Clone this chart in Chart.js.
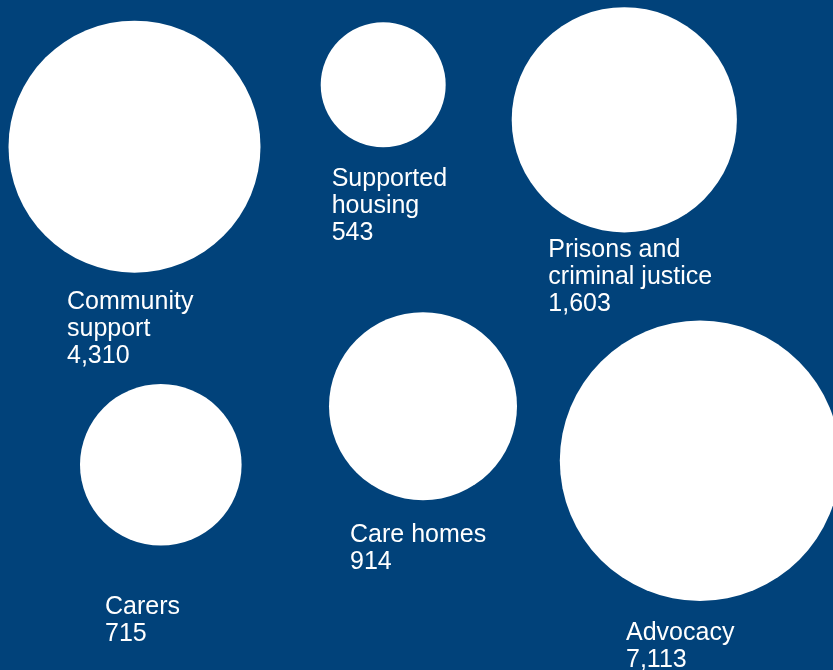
<!DOCTYPE html>
<html>
<head>
<meta charset="utf-8">
<script src="https://cdn.jsdelivr.net/npm/chart.js@4.4.1/dist/chart.umd.min.js"></script>
<style>
  html, body { margin: 0; padding: 0; background: #01427a; }
  #wrap { width: 833px; height: 670px; }
</style>
</head>
<body>
<div id="wrap"><canvas id="myChart" width="833" height="670"></canvas></div>
<script>
// data
var categories = ["Community support", "Supported housing", "Prisons and criminal justice", "Carers", "Care homes", "Advocacy"];
var labelLines = [["Community", "support"], ["Supported", "housing"], ["Prisons and", "criminal justice"], ["Carers"], ["Care homes"], ["Advocacy"]];
var counts = [4310, 543, 1603, 715, 914, 7113];

// bubble layout (canvas units), kept apart from the data
var layout = [
  { x: 134.5, y: 146.7, r: 126, dx: -67.5, dy: 162.3 },
  { x: 383.2, y: 84.8, r: 62.5, dx: -51.5, dy: 101.2 },
  { x: 624.3, y: 119.8, r: 112.6, dx: -76, dy: 137.5 },
  { x: 160.8, y: 464.8, r: 80.8, dx: -55.8, dy: 149.2 },
  { x: 423, y: 406.2, r: 94, dx: -73, dy: 136.1 },
  { x: 700, y: 460.8, r: 140.2, dx: -74, dy: 179.2 }
];

var points = counts.map(function(v, i) {
  return { x: layout[i].x, y: layout[i].y, r: layout[i].r, v: v };
});

var bubbleLabels = {
  id: "bubbleLabels",
  afterDatasetsDraw: function(chart) {
    var ctx = chart.ctx;
    var meta = chart.getDatasetMeta(0);
    ctx.save();
    ctx.fillStyle = "#ffffff";
    ctx.font = "25px 'Liberation Sans', Arial, sans-serif";
    ctx.textAlign = "left";
    ctx.textBaseline = "alphabetic";
    meta.data.forEach(function(el, i) {
      var lines = labelLines[i].concat([counts[i].toLocaleString("en-GB")]);
      var x = el.x + layout[i].dx;
      var y = el.y + layout[i].dy;
      lines.forEach(function(t, j) {
        ctx.fillText(t, x, y + j * 27);
      });
    });
    ctx.restore();
  }
};

new Chart("myChart", {
  type: "bubble",
  data: {
    labels: categories,
    datasets: [{
      data: points,
      backgroundColor: "#ffffff",
      borderWidth: 0,
      hoverRadius: 0
    }]
  },
  options: {
    responsive: false,
    animation: false,
    devicePixelRatio: 1,
    layout: { padding: 0, autoPadding: false },
    clip: false,
    plugins: {
      legend: { display: false },
      tooltip: { enabled: false }
    },
    scales: {
      x: { type: "linear", min: 0, max: 833, display: false },
      y: { type: "linear", min: 0, max: 670, reverse: true, display: false }
    }
  },
  plugins: [bubbleLabels]
});
</script>
</body>
</html>
